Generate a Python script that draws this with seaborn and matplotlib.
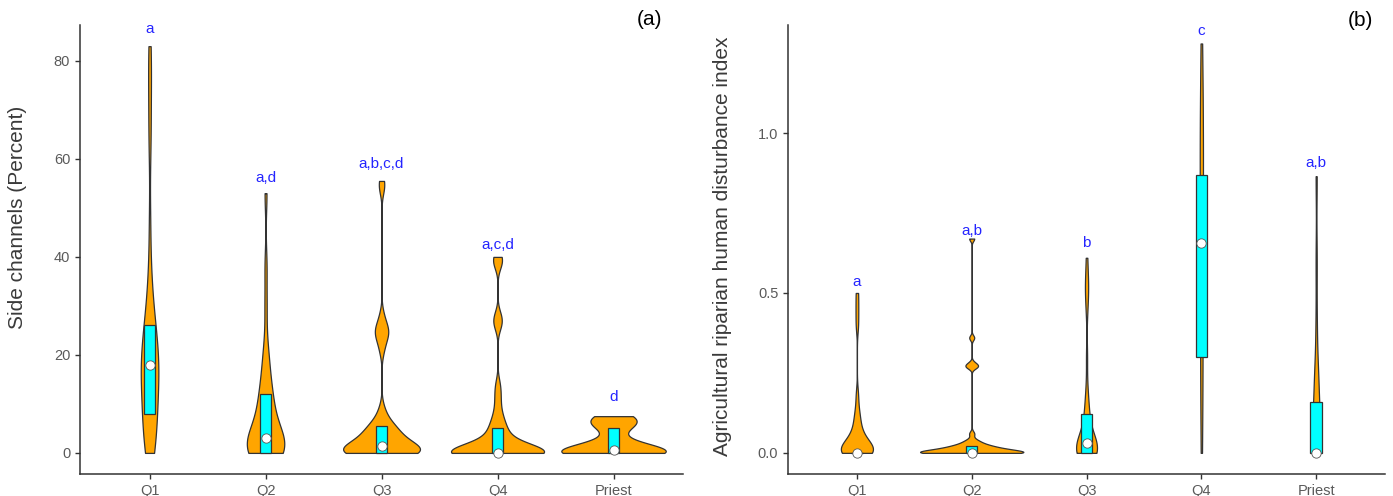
import numpy as np
import pandas as pd
import matplotlib
matplotlib.use("Agg")
import matplotlib.pyplot as plt
import seaborn as sns

categories = ["Q1", "Q2", "Q3", "Q4", "Priest"]

# Panel (a): side channels (percent) observations per group
side_q1 = [0, 0, 1, 2, 3, 4, 5, 6, 7, 8, 9, 10, 11, 12, 13, 14, 15, 15, 16, 17, 18, 18,
           19, 19, 20, 21, 22, 23, 24, 25, 26, 27, 29, 31, 34, 38, 47, 62, 68, 74, 79, 83]
side_q2 = [0, 0, 0, 0, 0, 0, 0, 0, 0, 0.5, 1, 1, 2, 2, 3, 3, 3, 4, 4, 5, 6, 7, 8, 9,
           10, 11, 12, 13, 15, 17, 19, 22, 30, 38, 53]
side_q3 = [0, 0, 0, 0, 0, 0, 0, 0, 0, 0, 0, 0, 0, 0,
           0.3, 0.5, 0.5, 0.8, 1, 1, 1.2, 1.5, 1.5, 2, 2, 2.5, 2.5, 3, 3, 3.5, 4, 4,
           4.5, 5, 5, 5.5, 5.5, 6.5, 7.5, 9,
           21, 23, 24, 25, 25, 26, 28, 54, 55.5]
side_q4 = [0] * 24 + [0.5, 1, 1, 1.5, 2, 2, 2.5, 3, 3.5, 4, 5, 5,
                      6, 7, 8, 10, 12, 14, 26, 27, 28, 38.5, 39.5, 40]
side_priest = [0, 0, 0, 0, 0, 0, 0, 0, 0, 0.5, 0.5, 1, 1.5, 2, 2.5,
               5, 5.5, 6, 6.5, 7, 7.5, 7.5]

side_box_low = [8, 0, 0, 0, 0]
side_box_med = [18, 3, 1.5, 0, 0.5]
side_box_high = [26, 12, 5.5, 5, 5]
side_letters = ["a", "a,d", "a,b,c,d", "a,c,d", "d"]
side_letter_y = [86.5, 56, 59, 42.5, 11.5]

# Panel (b): agricultural riparian human disturbance index observations per group
dist_q1 = [0] * 8 + [0.005, 0.01, 0.01, 0.015, 0.02, 0.02, 0.03, 0.03, 0.04, 0.05,
                     0.06, 0.07, 0.09, 0.11, 0.13, 0.18, 0.4, 0.45, 0.5]
dist_q2 = [0] * 14 + [0.002, 0.004, 0.005, 0.006, 0.008, 0.01, 0.01, 0.012, 0.014,
                      0.015, 0.017, 0.02, 0.02, 0.022, 0.025, 0.03, 0.035, 0.04,
                      0.06, 0.27, 0.27, 0.28, 0.36, 0.67]
dist_q3 = [0] * 10 + [0.01, 0.01, 0.02, 0.02, 0.02, 0.03, 0.03, 0.03, 0.04, 0.04,
                      0.06, 0.08, 0.1, 0.12, 0.13, 0.16, 0.2,
                      0.3, 0.45, 0.5, 0.52, 0.55, 0.61]
dist_q4 = [0, 0.1, 0.2, 0.3, 0.3, 0.4, 0.5, 0.6, 0.65, 0.7, 0.8, 0.87, 0.9, 0.95,
           1.0, 1.05, 1.1, 1.2, 1.28]
dist_priest = [0, 0, 0, 0, 0, 0, 0.01, 0.02, 0.05, 0.1, 0.16, 0.2, 0.22, 0.25,
               0.4, 0.6, 0.865]

dist_box_low = [0, 0, 0, 0.3, 0]
dist_box_med = [0, 0, 0.03, 0.655, 0]
dist_box_high = [0, 0.02, 0.12, 0.87, 0.16]
dist_letters = ["a", "a,b", "b", "c", "a,b"]
dist_letter_y = [0.535, 0.695, 0.655, 1.32, 0.905]


def long_form(groups):
    rows = []
    for cat, vals in zip(categories, groups):
        for v in vals:
            rows.append((cat, v))
    return pd.DataFrame(rows, columns=["group", "value"])


def nrd0_factor(kde):
    # Silverman's rule of thumb (as used by R's density()), as a factor of the sd
    x = np.asarray(kde.dataset).ravel()
    n = x.size
    sd = np.std(x, ddof=1)
    q75, q25 = np.percentile(x, [75, 25])
    lo = min(sd, (q75 - q25) / 1.34)
    if lo == 0:
        lo = sd if sd > 0 else 1.0
    bw = 0.9 * lo * n ** -0.2
    return bw / sd


df_a = long_form([side_q1, side_q2, side_q3, side_q4, side_priest])
df_b = long_form([dist_q1, dist_q2, dist_q3, dist_q4, dist_priest])

sns.set_theme(style="ticks")
plt.rcParams["font.family"] = ["Liberation Sans", "DejaVu Sans"]

fig = plt.figure(figsize=(13.93, 4.96), dpi=100)
ax_a = fig.add_axes([0.0574, 0.0444, 0.433, 0.905])
ax_b = fig.add_axes([0.5657, 0.0444, 0.4286, 0.905])

dark = "#333333"


def panel(ax, df, lo, med, hi, letters, letter_y, ylim, yticks, ylabel, tag,
          label_xy, tag_xy):
    sns.violinplot(data=df, x="group", y="value", order=categories, ax=ax,
                   color="#FFA500", saturation=1, cut=0, inner=None,
                   density_norm="area", width=0.9, bw_method=nrd0_factor,
                   gridsize=400, linecolor=dark, linewidth=0.9)
    pos = np.arange(len(categories))
    lo = np.array(lo)
    hi = np.array(hi)
    ax.bar(pos, hi - lo, bottom=lo, width=0.1, color="#00FFFF",
           edgecolor=dark, linewidth=0.9, zorder=3)
    ax.scatter(pos, med, s=45, color="white", edgecolor="#555555",
               linewidth=0.6, zorder=4)
    for p, t, y in zip(pos, letters, letter_y):
        ax.text(p, y, t, ha="center", va="center", color="#2525FF", fontsize=11)
    ax.set_xlim(-0.6, 4.6)
    ax.set_ylim(*ylim)
    ax.set_yticks(yticks)
    ax.set_xlabel("")
    ax.set_ylabel(ylabel, fontsize=15, color="#3a3a3a")
    ax.yaxis.set_label_coords(*label_xy)
    ax.tick_params(axis="both", labelsize=10.5, labelcolor="#5a5a5a",
                   color=dark, length=3.5, width=1)
    for s in ["left", "bottom"]:
        ax.spines[s].set_color(dark)
        ax.spines[s].set_linewidth(1.1)
    sns.despine(ax=ax)
    ax.text(tag_xy[0], tag_xy[1], tag, transform=ax.transAxes, ha="right",
            va="center", fontsize=15, color="black")


panel(ax_a, df_a, side_box_low, side_box_med, side_box_high, side_letters,
      side_letter_y, (-4.3, 87.3), [0, 20, 40, 60, 80],
      "Side channels (Percent)", "(a)", (-0.087, 0.571), (0.965, 1.013))
ax_a.set_yticklabels(["0", "20", "40", "60", "80"])
panel(ax_b, df_b, dist_box_low, dist_box_med, dist_box_high, dist_letters,
      dist_letter_y, (-0.066, 1.3375), [0.0, 0.5, 1.0],
      "Agricultural riparian human disturbance index", "(b)",
      (-0.094, 0.508), (0.98, 1.01))
ax_b.set_yticklabels(["0.0", "0.5", "1.0"])

fig.savefig("out.png", dpi=100)
